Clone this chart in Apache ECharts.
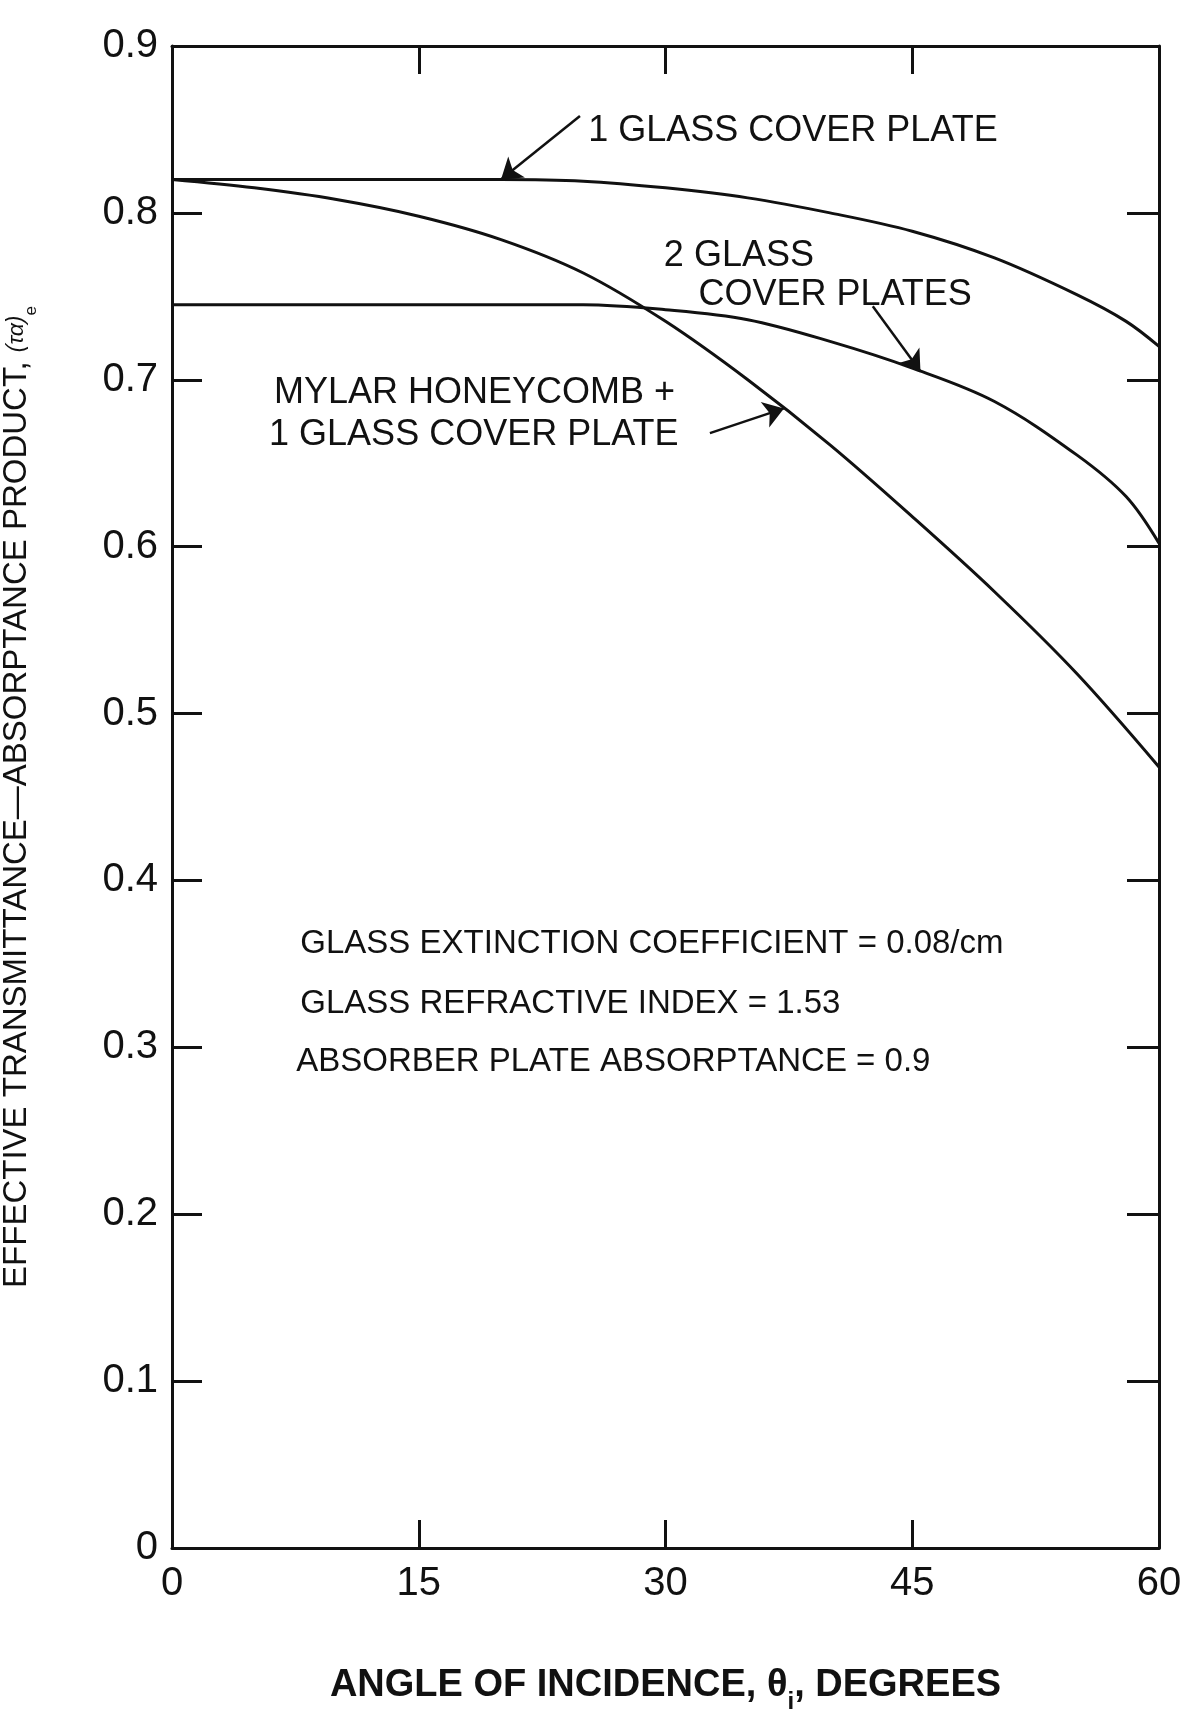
<!DOCTYPE html>
<html>
<head>
<meta charset="utf-8">
<title>Effective transmittance–absorptance product vs angle of incidence</title>
<script src="https://cdn.jsdelivr.net/npm/echarts@6/dist/echarts.min.js"></script>
<style>
  html, body { margin: 0; padding: 0; background: #ffffff; }
  #chart { width: 1183px; height: 1710px; }
</style>
</head>
<body>
<div id="chart"></div>
<script>
// Axis ticks
const angleTicks = [0, 15, 30, 45, 60];
const productTicks = ['0', '0.1', '0.2', '0.3', '0.4', '0.5', '0.6', '0.7', '0.8', '0.9'];

// 1 glass cover plate
const oneCoverAngle = [0, 5, 10, 15, 20, 25, 30, 35, 40, 45, 50, 55, 58, 60];
const oneCoverValue = [0.820, 0.820, 0.820, 0.820, 0.820, 0.819, 0.815, 0.809, 0.800, 0.789, 0.773, 0.751, 0.735, 0.720];

// 2 glass cover plates
const twoCoverAngle = [0, 10, 20, 25, 30, 35, 40, 45, 50, 55, 58, 60];
const twoCoverValue = [0.745, 0.745, 0.745, 0.745, 0.742, 0.736, 0.723, 0.707, 0.687, 0.655, 0.630, 0.602];

// Mylar honeycomb + 1 glass cover plate
const mylarAngle = [0, 5, 10, 15, 20, 25, 30, 35, 40, 45, 50, 55, 60];
const mylarValue = [0.820, 0.815, 0.808, 0.798, 0.784, 0.764, 0.735, 0.700, 0.661, 0.618, 0.573, 0.524, 0.468];

const seriesNames = ['1 GLASS COVER PLATE', '2 GLASS COVER PLATES', 'MYLAR HONEYCOMB + 1 GLASS COVER PLATE'];

const noteLines = [
  'GLASS EXTINCTION COEFFICIENT = 0.08/cm',
  'GLASS REFRACTIVE INDEX = 1.53',
  'ABSORBER PLATE ABSORPTANCE = 0.9'
];

const FONT = '"Liberation Sans", Arial, Helvetica, sans-serif';
const INK = '#111111';

function pairs(xs, ys) { return xs.map((x, i) => [x, ys[i]]); }
function valueAt(xs, ys, x) {
  for (let i = 1; i < xs.length; i++) {
    if (x <= xs[i]) {
      const t = (x - xs[i - 1]) / (xs[i] - xs[i - 1]);
      return ys[i - 1] + t * (ys[i] - ys[i - 1]);
    }
  }
  return ys[ys.length - 1];
}

// Callout arrows: from near the label to a point on the curve (angle on the curve)
const callouts = [
  { from: [24.8, 0.858], at: 20, xs: oneCoverAngle, ys: oneCoverValue },
  { from: [42.6, 0.744], at: 45.5, xs: twoCoverAngle, ys: twoCoverValue },
  { from: [32.7, 0.668], at: 37.2, xs: mylarAngle, ys: mylarValue }
];

function arrowLine(c) {
  return {
    data: [[{ coord: c.from }, { coord: [c.at, valueAt(c.xs, c.ys, c.at)] }]],
    symbol: ['none', 'arrow'],
    symbolSize: 20,
    silent: true,
    label: { show: false },
    lineStyle: { color: INK, width: 2.5, type: 'solid' },
    emphasis: { disabled: true },
    animation: false
  };
}

function curve(name, xs, ys, c) {
  return {
    name: name,
    type: 'line',
    data: pairs(xs, ys),
    showSymbol: false,
    smooth: 0.35,
    lineStyle: { color: INK, width: 3 },
    itemStyle: { color: INK },
    emphasis: { disabled: true },
    markLine: arrowLine(c)
  };
}

const frameLine = { show: true, onZero: false, lineStyle: { color: INK, width: 3 } };
const tickStyle = { color: INK, width: 3 };

const chart = echarts.init(document.getElementById('chart'), null, { renderer: 'canvas' });

chart.setOption({
  animation: false,
  backgroundColor: '#ffffff',
  grid: { left: 172, right: 24, top: 46, bottom: 162, containLabel: false, outerBoundsMode: 'none' },
  xAxis: [
    {
      type: 'value', min: 0, max: 60, interval: 15, position: 'bottom',
      axisLine: frameLine,
      axisTick: { show: true, inside: true, length: 28, lineStyle: tickStyle },
      axisLabel: {
        margin: 16, fontSize: 40, color: INK, fontFamily: FONT,
        formatter: v => angleTicks.includes(v) ? String(v) : ''
      },
      splitLine: { show: false },
      name: 'ANGLE OF INCIDENCE, θ{sub|i}, DEGREES',
      nameLocation: 'middle',
      nameGap: 110,
      nameTextStyle: {
        fontSize: 38, fontWeight: 'bold', color: INK, fontFamily: FONT, lineHeight: 56,
        rich: { sub: { fontSize: 24, fontWeight: 'bold', color: INK, fontFamily: FONT, verticalAlign: 'bottom', lineHeight: 24 } }
      }
    },
    {
      type: 'value', min: 0, max: 60, interval: 15, position: 'top',
      axisLine: frameLine,
      axisTick: { show: true, inside: true, length: 28, lineStyle: tickStyle },
      axisLabel: { show: false },
      splitLine: { show: false }
    }
  ],
  yAxis: [
    {
      type: 'value', min: 0, max: 0.9, interval: 0.1, position: 'left',
      axisLine: frameLine,
      axisTick: { show: true, inside: true, length: 30, lineStyle: tickStyle },
      axisLabel: {
        margin: 14, fontSize: 40, color: INK, fontFamily: FONT,
        formatter: v => productTicks[Math.round(v * 10)]
      },
      splitLine: { show: false },
      name: 'EFFECTIVE TRANSMITTANCE—ABSORPTANCE PRODUCT, {g|(τα)}{e|e}',
      nameLocation: 'middle',
      nameRotate: 90,
      nameGap: 132,
      nameTextStyle: {
        fontSize: 33, color: INK, fontFamily: FONT, lineHeight: 46,
        rich: {
          g: { fontSize: 23, fontStyle: 'italic', color: INK, fontFamily: FONT, lineHeight: 23 },
          e: { fontSize: 17, color: INK, fontFamily: FONT, verticalAlign: 'bottom', lineHeight: 17 }
        }
      }
    },
    {
      type: 'value', min: 0, max: 0.9, interval: 0.1, position: 'right',
      axisLine: frameLine,
      axisTick: { show: true, inside: true, length: 32, lineStyle: tickStyle },
      axisLabel: { show: false },
      splitLine: { show: false }
    }
  ],
  series: [
    curve(seriesNames[0], oneCoverAngle, oneCoverValue, callouts[0]),
    curve(seriesNames[1], twoCoverAngle, twoCoverValue, callouts[1]),
    curve(seriesNames[2], mylarAngle, mylarValue, callouts[2])
  ]
});

// Curve labels and the property note, anchored in data space
function toPx(a, v) { return chart.convertToPixel({ xAxisIndex: 0, yAxisIndex: 0 }, [a, v]); }

const labelSpecs = [
  { text: '1 GLASS COVER PLATE', at: [25.3, 0.849], size: 36 },
  { text: '2 GLASS', at: [29.9, 0.774], size: 36 },
  { text: 'COVER PLATES', at: [32.0, 0.751], size: 36 },
  { text: 'MYLAR HONEYCOMB +', at: [6.2, 0.692], size: 36 },
  { text: '1 GLASS COVER PLATE', at: [5.9, 0.667], size: 36 },
  { text: noteLines[0], at: [7.8, 0.362], size: 33 },
  { text: noteLines[1], at: [7.8, 0.326], size: 33 },
  { text: noteLines[2], at: [7.55, 0.291], size: 33 }
];

chart.setOption({
  graphic: labelSpecs.map(s => {
    const p = toPx(s.at[0], s.at[1]);
    return {
      type: 'text',
      x: p[0], y: p[1],
      silent: true,
      style: {
        text: s.text,
        fill: INK,
        fontSize: s.size,
        fontFamily: FONT,
        align: 'left',
        verticalAlign: 'middle'
      }
    };
  })
});
</script>
</body>
</html>
